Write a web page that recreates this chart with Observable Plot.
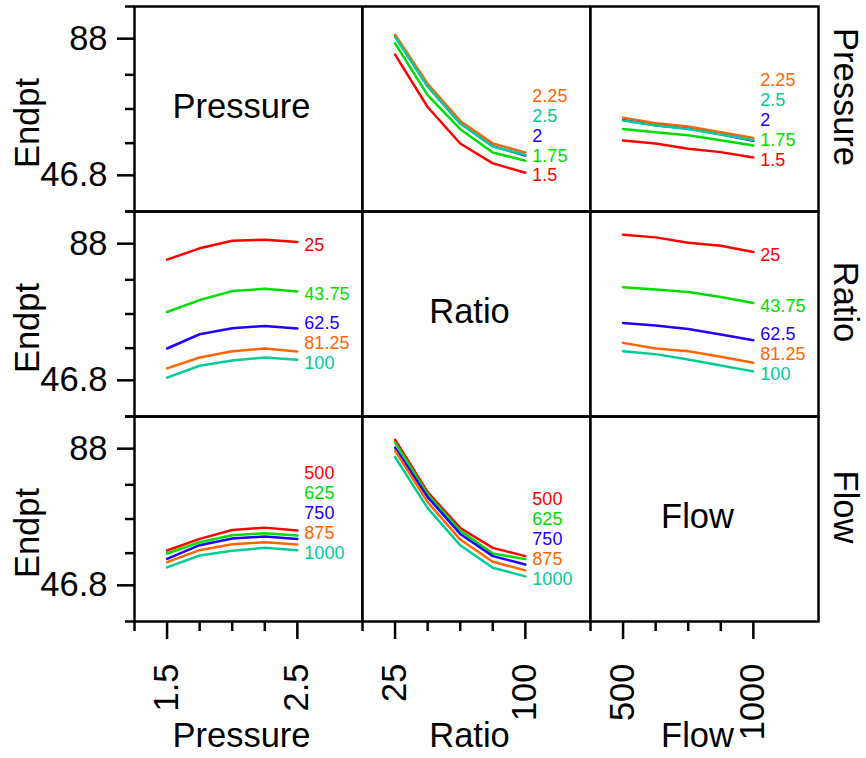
<!DOCTYPE html>
<html>
<head>
<meta charset="utf-8">
<script src="https://cdn.jsdelivr.net/npm/d3@7"></script>
<script src="https://cdn.jsdelivr.net/npm/@observablehq/plot@0.6"></script>
<style>
  body { margin: 0; background: #fff; }
  #chart { display: flex; width: 866px; height: 758px; }
  #chart svg { display: block; flex: none; }
</style>
</head>
<body>
<div id="chart"></div>
<script>
// ---- factor levels ----
const factorNames = ["Pressure", "Ratio", "Flow"];
const pressureLevels = [1.5, 1.75, 2, 2.25, 2.5];
const ratioLevels = [25, 43.75, 62.5, 81.25, 100];
const flowLevels = [500, 625, 750, 875, 1000];

// ---- Endpt cell means (rows = first factor levels, columns = second factor levels) ----
const pressureByRatio = [
  [83.8, 68.0, 57.0, 51.0, 48.2],   // Pressure 1.5
  [87.2, 71.6, 61.3, 54.3, 51.8],   // 1.75
  [89.5, 74.3, 63.1, 56.2, 53.4],   // 2
  [89.8, 75.0, 63.8, 57.0, 54.3],   // 2.25
  [89.1, 74.2, 63.0, 56.1, 53.6]    // 2.5
];
const pressureByFlow = [
  [57.9, 57.0, 55.4, 54.4, 52.8],
  [61.4, 60.4, 59.5, 58.0, 56.4],
  [64.1, 62.5, 61.5, 59.8, 57.8],
  [64.8, 63.1, 62.1, 60.4, 58.7],
  [63.9, 62.4, 61.4, 59.7, 58.0]
];
const ratioByFlow = [
  [91.3, 90.5, 88.9, 88.0, 86.1],   // Ratio 25
  [75.5, 74.8, 74.0, 72.5, 70.7],   // 43.75
  [64.7, 63.9, 62.9, 61.2, 59.5],   // 62.5
  [58.7, 57.0, 56.2, 54.5, 52.7],   // 81.25
  [56.2, 55.3, 53.7, 51.9, 50.1]    // 100
];

// ---- axis ticks ----
const yTickLabels = [46.8, 88];
const yMinorTicks = [57.1, 67.4, 77.7];
const yLabel = "Endpt";

// ---- colours per level index ----
const seriesColors = ["#ff0000", "#00dd00", "#2200ff", "#ff6600", "#00cc99"];

const factorLevels = [pressureLevels, ratioLevels, flowLevels];
const tables = {"0-1": pressureByRatio, "0-2": pressureByFlow, "1-2": ratioByFlow};
function cellMean(a, i, b, j) {
  return a < b ? tables[a + "-" + b][i][j] : tables[b + "-" + a][j][i];
}

const FONT = "'Liberation Sans', Arial, sans-serif";
const BIG = 34.5;
const panelW = 228, H = 758, mTop = 5, mBottom = 136;
const rowH = (H - mTop - mBottom) / 3;
const tickSpan = yTickLabels[1] - yTickLabels[0];
const yDomain = [yTickLabels[0] - 0.25 * tickSpan, yTickLabels[1] + 0.25 * tickSpan];
const labelGap = 20 * (yDomain[1] - yDomain[0]) / rowH;

function column(c) {
  const levels = factorLevels[c];
  const n = levels.length;
  const span = levels[n - 1] - levels[0];
  const xDomain = [levels[0] - 0.25 * span, levels[n - 1] + 0.5 * span];
  const lines = [], labels = [];
  factorNames.forEach((rowName, r) => {
    if (r === c) return;
    const ends = [];
    factorLevels[r].forEach((s, k) => {
      levels.forEach((xv, i) => lines.push({row: rowName, x: xv, y: cellMean(r, k, c, i), k}));
      ends.push({row: rowName, x: levels[n - 1], y: cellMean(r, k, c, n - 1), k, label: String(s)});
    });
    ends.sort((a, b) => a.y - b.y);
    let prev = -Infinity;
    for (const e of ends) { e.ly = Math.max(e.y, prev + labelGap); prev = e.ly; labels.push(e); }
  });

  const marks = [
    Plot.frame({stroke: "#000", strokeWidth: 2.5}),
    Plot.line(lines, {x: "x", y: "y", z: "k", stroke: "k", fy: "row", strokeWidth: 2.5}),
    Plot.text(labels, {x: "x", y: "ly", fy: "row", text: "label", fill: "k", textAnchor: "start", dx: 7, dy: 3, fontSize: 18}),
    Plot.text([{row: factorNames[c]}], {fy: "row", text: "row", frameAnchor: "middle", textAnchor: "middle",
      lineAnchor: "middle", fontSize: BIG, dx: -7, dy: -2}),
    Plot.axisX({ticks: [levels[0], levels[n - 1]], tickFormat: d => String(d), tickSize: 18, tickPadding: 24, tickRotate: -90,
      fontSize: BIG, label: null, strokeWidth: 2.5, facetAnchor: "bottom"}),
    Plot.axisX({ticks: [xDomain[0], ...levels.slice(1, n - 1)], tickFormat: () => "", tickSize: 10, label: null,
      strokeWidth: 2.5, facetAnchor: "bottom"}),
    Plot.text([{row: factorNames[2], name: factorNames[c]}], {fy: "row", text: "name", frameAnchor: "bottom",
      textAnchor: "middle", lineAnchor: "middle", dx: -7, dy: 114, fontSize: BIG})
  ];
  let mLeft = 0, mRight = 0;
  if (c === 0) {
    mLeft = 134;
    marks.push(
      Plot.axisY({ticks: yTickLabels, tickFormat: d => String(d), tickSize: 17, tickPadding: 10, fontSize: BIG, dy: -2,
        label: null, strokeWidth: 2.5}),
      Plot.axisY({ticks: [yDomain[0], ...yMinorTicks, yDomain[1]], tickFormat: () => "", tickSize: 9, label: null, strokeWidth: 2.5}),
      Plot.text(factorNames, {fy: d => d, text: () => yLabel, frameAnchor: "left", textAnchor: "middle", lineAnchor: "middle",
        dx: -107, dy: 14, rotate: -90, fontSize: BIG})
    );
  }
  if (c === 2) {
    mRight = 48;
    marks.push(Plot.text(factorNames, {fy: d => d, text: d => d, frameAnchor: "right", textAnchor: "middle", lineAnchor: "middle",
      dx: 27, dy: -12, rotate: 90, fontSize: BIG}));
  }
  const yOpts = {domain: yDomain};
  if (c !== 0) yOpts.axis = null;
  return Plot.plot({
    width: mLeft + panelW + mRight,
    height: H,
    marginLeft: mLeft, marginRight: mRight, marginTop: mTop, marginBottom: mBottom,
    x: {domain: xDomain},
    y: yOpts,
    fy: {domain: factorNames, padding: 0, axis: null},
    color: {type: "ordinal", domain: [0, 1, 2, 3, 4], range: seriesColors},
    style: {fontFamily: FONT, background: "#fff", color: "#000", overflow: "visible"},
    marks
  });
}

const chart = document.getElementById("chart");
for (let c = 0; c < 3; c++) chart.appendChild(column(c));
</script>
</body>
</html>
